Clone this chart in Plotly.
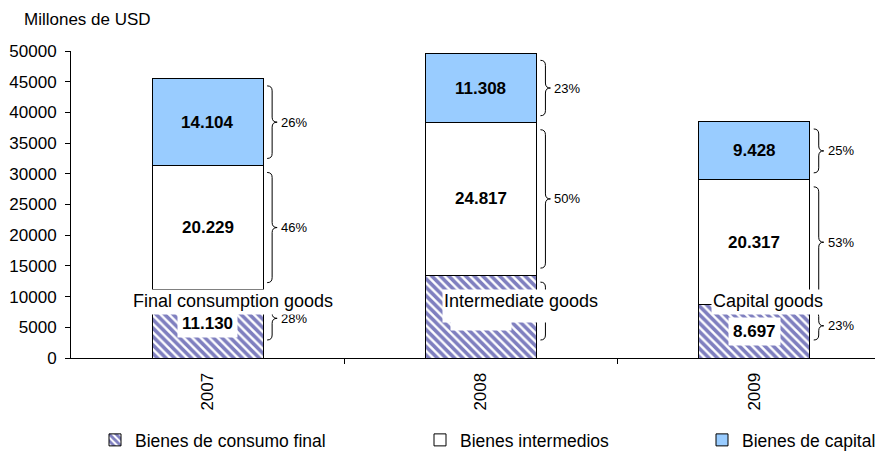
import plotly.graph_objects as go

# ---- data ----
years = ["2007", "2008", "2009"]
consumo_final = [11130, 13500, 8697]
intermedios = [20229, 24817, 20317]
capital = [14104, 11308, 9428]
pct_consumo = ["28%", "27%", "23%"]
pct_intermedios = ["46%", "50%", "53%"]
pct_capital = ["26%", "23%", "25%"]
series_names = ["Bienes de consumo final", "Bienes intermedios", "Bienes de capital"]
overlay_labels = ["Final consumption goods", "Intermediate goods", "Capital goods"]

# ---- layout constants ----
FONT = "Liberation Sans, Arial, sans-serif"
OFF = 8                      # page body margin of the viewer
W, H = 883 - OFF, 451 - OFF  # figure size so that it fits the window
# target positions in window pixels
PLOT_L, PLOT_T, PLOT_B = 71, 51, 358
ML = PLOT_L - OFF
MT = PLOT_T - OFF
MB = H - (PLOT_B - OFF)
MR = 0
YMAX = 50000
PLOT_H = PLOT_B - PLOT_T
PW = W - ML - MR
DPP = YMAX / PLOT_H  # data units per pixel (vertical)
BAR_W = 0.406
XR = [-0.5, -0.5 + PW / 273.3]
overlay_x = [0.093, 1.148, 2.05]
overlay_top_px = 289
overlay_box_h = [22, 30, 22]
legend_left_px = [95, 420, 702]
legend_mid_y = 440


def px_x(p):
    return (p - PLOT_L) / PW


def px_y(p):
    return (PLOT_B - p) / PLOT_H


xs = list(range(len(years)))

fig = go.Figure()
fig.add_trace(go.Bar(
    x=xs, y=consumo_final, name=series_names[0], width=BAR_W,
    marker=dict(color="white", line=dict(color="black", width=1),
                pattern=dict(shape="\\", fgcolor="#000080", bgcolor="white",
                             size=6, solidity=0.6)),
    legend="legend"))
fig.add_trace(go.Bar(
    x=xs, y=intermedios, name=series_names[1], width=BAR_W,
    marker=dict(color="white", line=dict(color="black", width=1)),
    legend="legend2"))
fig.add_trace(go.Bar(
    x=xs, y=capital, name=series_names[2], width=BAR_W,
    marker=dict(color="#99CCFF", line=dict(color="black", width=1)),
    legend="legend3"))


def fmt(v):
    return f"{v:,}".replace(",", ".")


shapes = []
annotations = []
for i in xs:
    segs = [consumo_final[i], intermedios[i], capital[i]]
    pcts = [pct_consumo[i], pct_intermedios[i], pct_capital[i]]
    base = 0
    for k, v in enumerate(segs):
        lo, hi = base, base + v
        base = hi
        ann = dict(x=i, y=(lo + hi) / 2, xref="x", yref="y",
                   text="<b>" + fmt(v) + "</b>", showarrow=False,
                   font=dict(family=FONT, size=17, color="black"))
        if k == 0:
            ann.update(bgcolor="white", borderpad=4)
        annotations.append(ann)
        inset_b = 18 if k == 0 else 7
        yt = hi - 7 * DPP
        yb = lo + inset_b * DPP
        ym = (yt + yb) / 2
        r = 5 * DPP
        path = (f"M 4,{yt} Q 9,{yt} 9,{yt - r} L 9,{ym + r} Q 9,{ym} 14,{ym} "
                f"Q 9,{ym} 9,{ym - r} L 9,{yb + r} Q 9,{yb} 4,{yb}")
        shapes.append(dict(type="path", xref="x", yref="y", xsizemode="pixel",
                           xanchor=i + BAR_W / 2, path=path,
                           line=dict(color="black", width=1)))
        annotations.append(dict(x=i + BAR_W / 2, y=ym, xref="x", yref="y",
                                xshift=16, xanchor="left", yanchor="middle",
                                text=pcts[k], showarrow=False,
                                font=dict(family=FONT, size=13, color="black")))

for i, t in enumerate(overlay_labels):
    h = overlay_box_h[i]
    annotations.append(dict(x=overlay_x[i], y=px_y(overlay_top_px) * YMAX,
                            xref="x", yref="y", yanchor="top",
                            height=h, valign="top",
                            text=t, showarrow=False, bgcolor="white", borderpad=1,
                            font=dict(family=FONT, size=18, color="black")))

annotations.append(dict(x=px_x(22), y=px_y(20),
                        xref="paper", yref="paper", xanchor="left", yanchor="middle",
                        text="Millones de USD", showarrow=False,
                        font=dict(family=FONT, size=17, color="black")))

leg_common = dict(orientation="h", yanchor="middle", y=px_y(legend_mid_y),
                  xanchor="left", font=dict(family=FONT, size=17.5, color="black"),
                  bgcolor="rgba(0,0,0,0)", itemwidth=30)

fig.update_layout(
    width=W, height=H,
    margin=dict(l=ML, r=MR, t=MT, b=MB, autoexpand=False),
    paper_bgcolor="white", plot_bgcolor="white",
    barmode="stack",
    font=dict(family=FONT, size=17, color="black"),
    showlegend=True,
    legend=dict(x=px_x(legend_left_px[0]), **leg_common),
    legend2=dict(x=px_x(legend_left_px[1]), **leg_common),
    legend3=dict(x=px_x(legend_left_px[2]), **leg_common),
    shapes=shapes,
    annotations=annotations,
    xaxis=dict(range=XR, tickmode="array", tickvals=xs, ticktext=years,
               tickangle=-90, ticks="", showline=True, linecolor="black",
               linewidth=1, showgrid=False, zeroline=False,
               tickfont=dict(family=FONT, size=17, color="black"),
               ticklabelstandoff=7,
               minor=dict(tickmode="array", tickvals=[0.5, 1.5, 2.5],
                          ticks="outside", ticklen=5, tickcolor="black",
                          showgrid=False)),
    yaxis=dict(range=[0, YMAX], dtick=5000, tickformat="d", ticks="outside",
               ticklen=5, tickcolor="black", showline=True, linecolor="black",
               linewidth=1, showgrid=False, zeroline=False,
               ticklabelstandoff=5,
               tickfont=dict(family=FONT, size=17, color="black")),
)

fig.write_html("out.html")
